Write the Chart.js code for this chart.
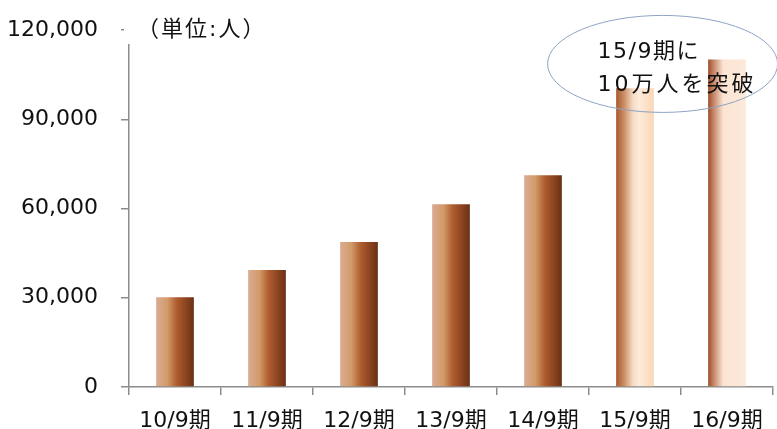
<!DOCTYPE html>
<html>
<head>
<meta charset="utf-8">
<script src="https://cdn.jsdelivr.net/npm/chart.js@4.4.0/dist/chart.umd.min.js"></script>
<style>
  html, body { margin: 0; padding: 0; background: #fff; }
  #wrap { width: 777px; height: 429px; position: relative; }
</style>
</head>
<body>
<div id="wrap"><canvas id="c"></canvas></div>
<script>
// ---------- データ ----------
const categories = ["10/9期", "11/9期", "12/9期", "13/9期", "14/9期", "15/9期", "16/9期"];
const members = [30200, 39300, 48700, 61400, 71200, 100400, 110100];
const yTicks = [0, 30000, 60000, 90000, 120000];
const unitLabel = "（単位:人）";
const noteLines = ["15/9期に", "10万人を突破"];

// 棒ごとのグラデーション（左→右）
const darkStops = [[0, "#d9ac93"], [0.3, "#d39a69"], [0.55, "#ae5c2e"], [0.8, "#8a4320"], [1, "#6a3115"]];
const lightStops6 = [[0, "#a9582f"], [0.2, "#c98b62"], [0.45, "#f6dcc6"], [0.6, "#fdebdc"], [1, "#fbd6b5"]];
const lightStops7 = [[0, "#9e4d2a"], [0.15, "#c6886a"], [0.4, "#fbe4d3"], [1, "#fde9da"]];
const barStops = [darkStops, darkStops, darkStops, darkStops, darkStops, lightStops6, lightStops7];

const FONT = "'DejaVu Sans', 'Noto Sans CJK JP', sans-serif";
const TEXT = "#111";
const AXIS = "#8c8c8c";

function barFill(ctx) {
    const chart = ctx.chart;
    const xs = chart.scales.x;
    if (!xs || !chart.chartArea) return darkStops[2][1];
    const i = ctx.dataIndex;
    const cx = xs.getPixelForValue(i);
    const w = xs.width / categories.length * 0.41;
    const g = chart.ctx.createLinearGradient(cx - w / 2, 0, cx + w / 2, 0);
    barStops[i].forEach(([p, c]) => g.addColorStop(p, c));
    return g;
}

// 注記（楕円と単位）
const notePlugin = {
    id: "notes",
    afterDraw(chart) {
        const { ctx } = chart;
        const xs = chart.scales.x, ys = chart.scales.y;
        ctx.save();
        // 単位ラベル（背景を白で抜く）
        ctx.fillStyle = "#fff";
        ctx.fillRect(xs.left - 5, 14, 138, 30);
        ctx.fillStyle = TEXT;
        ctx.font = "22px " + FONT;
        ctx.letterSpacing = "2px";
        ctx.textBaseline = "middle";
        ctx.textAlign = "left";
        ctx.fillText(unitLabel, xs.left + 8, 30);

        // 楕円
        const ex = xs.getPixelForValue(5.3);
        const ey = ys.getPixelForValue(108600);
        ctx.beginPath();
        ctx.ellipse(ex, ey, 115, 48.5, 0, 0, Math.PI * 2);
        ctx.strokeStyle = "#8ea3c4";
        ctx.lineWidth = 1;
        ctx.stroke();

        ctx.fillStyle = TEXT;
        ctx.font = "22px " + FONT;
        ctx.letterSpacing = "1.5px";
        ctx.fillText(noteLines[0], ex - 65, ey - 12);
        ctx.letterSpacing = "3px";
        ctx.fillText(noteLines[1], ex - 65, ey + 21);
        ctx.restore();
    }
};

new Chart(document.getElementById("c"), {
    type: "bar",
    data: {
        labels: categories,
        datasets: [{
            data: members,
            backgroundColor: barFill,
            borderWidth: 0,
            barPercentage: 0.41,
            categoryPercentage: 1.0,
        }],
    },
    options: {
        responsive: true,
        maintainAspectRatio: false,
        animation: false,
        layout: { padding: { top: 30, right: 4, left: 0, bottom: 0 } },
        plugins: {
            legend: { display: false },
            tooltip: { enabled: false },
        },
        scales: {
            x: {
                grid: {
                    offset: true,
                    drawOnChartArea: false,
                    tickLength: 8,
                    color: AXIS,
                    lineWidth: 1.5,
                },
                border: { color: AXIS, width: 1.5 },
                ticks: {
                    color: TEXT,
                    font: { family: FONT, size: 22 },
                    padding: 13,
                    maxRotation: 0,
                },
                afterFit(s) { s.height = 42; },
            },
            y: {
                min: 0,
                max: 120000,
                afterBuildTicks(s) { s.ticks = yTicks.map((v) => ({ value: v })); },
                grid: {
                    drawOnChartArea: false,
                    tickLength: 8,
                    color: AXIS,
                    lineWidth: 1.5,
                },
                border: { color: AXIS, width: 1.5 },
                ticks: {
                    color: TEXT,
                    font: { family: FONT, size: 22 },
                    padding: 23,
                    callback: (v) => v.toLocaleString("en-US"),
                },
                afterFit(s) {
                    s.width = 129;
                    s.paddingTop = 12;
                    s.paddingBottom = 12;
                },
            },
        },
    },
    plugins: [notePlugin],
});
</script>
</body>
</html>
